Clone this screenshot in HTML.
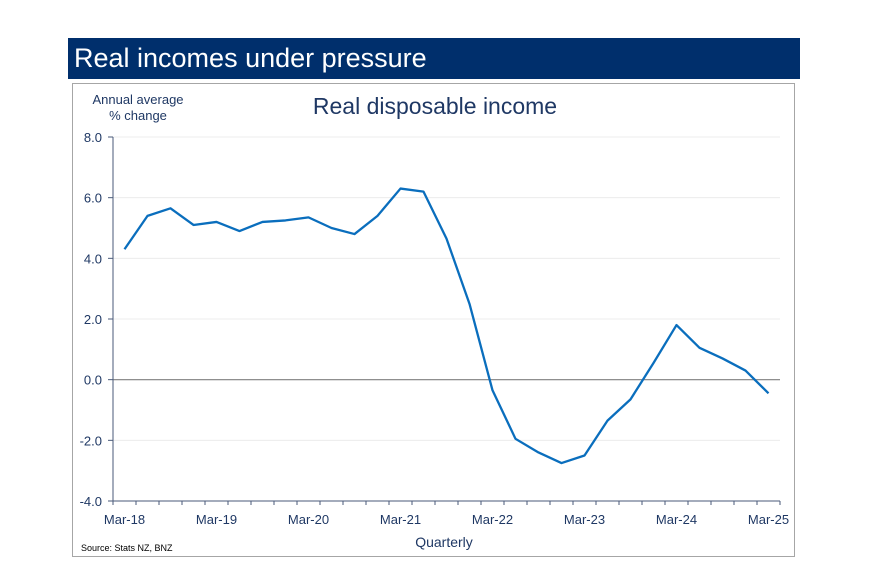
<!DOCTYPE html>
<html><head><meta charset="utf-8"><style>
body{margin:0;width:886px;height:574px;background:#fff;overflow:hidden;font-family:"Liberation Sans",sans-serif}
#bar{position:absolute;left:68px;top:38px;width:732px;height:41px;background:#002f6c;color:#fff;font-size:27px;line-height:40px;padding-left:6px;box-sizing:border-box}
#frame{position:absolute;left:72px;top:83px;width:723px;height:474px;border:1px solid #a6a6a6;box-sizing:border-box}
svg{position:absolute;left:0;top:0}
</style></head><body>
<div id="bar">Real incomes under pressure</div>
<div id="frame"></div>
<svg id="chart" width="886" height="574"></svg>
<script>
const categories=["Mar-18","Jun-18","Sep-18","Dec-18","Mar-19","Jun-19","Sep-19","Dec-19","Mar-20","Jun-20","Sep-20","Dec-20","Mar-21","Jun-21","Sep-21","Dec-21","Mar-22","Jun-22","Sep-22","Dec-22","Mar-23","Jun-23","Sep-23","Dec-23","Mar-24","Jun-24","Sep-24","Dec-24","Mar-25"];
const values=[4.3,5.4,5.65,5.1,5.2,4.9,5.2,5.25,5.35,5.0,4.8,5.4,6.3,6.2,4.65,2.5,-0.35,-1.95,-2.4,-2.75,-2.5,-1.35,-0.65,0.55,1.8,1.05,0.7,0.3,-0.45];
const yTicks=[-4,-2,0,2,4,6,8];
const yTickLabels=["-4.0","-2.0","0.0","2.0","4.0","6.0","8.0"];
const NS="http://www.w3.org/2000/svg",svg=document.getElementById('chart');
const X0=113,X1=780,Y0=501,Y1=137;
const step=(X1-X0)/categories.length;
const x=i=>X0+step*(i+0.5);
const y=v=>Y0-(v+4)/12*(Y0-Y1);
function mk(t,a,txt){const e=document.createElementNS(NS,t);for(const k in a)e.setAttribute(k,a[k]);if(txt!=null)e.textContent=txt;svg.appendChild(e);return e;}
const tc="#1f3864";
yTicks.forEach((v,i)=>{
 if(v!==-4&&v!==0){const g=mk('line',{x1:X0,x2:X1,y1:y(v),y2:y(v),stroke:'#ececec','stroke-width':1});
 
 }
 const t=mk('line',{x1:X0-5,x2:X0,y1:y(v),y2:y(v),stroke:'#4a5a7a'});
 
 
 const l=mk('text',{x:X0-11,y:y(v)+5,'text-anchor':'end','font-size':13,fill:tc},yTickLabels[i]);
 
 
});
const z=mk('line',{x1:X0,x2:X1,y1:y(0),y2:y(0),stroke:'#7f7f7f','stroke-width':1.2});


const ya=mk('line',{x1:X0,x2:X0,y1:Y1,y2:Y0,stroke:'#4a5a7a'});


const xa=mk('line',{x1:X0,x2:X1,y1:Y0,y2:Y0,stroke:'#4a5a7a'});


for(let i=0;i<=categories.length;i++){
 const t=mk('line',{x1:X0+step*i,x2:X0+step*i,y1:Y0,y2:Y0+4,stroke:'#4a5a7a'});
 
 
}
categories.forEach((c,i)=>{if(i%4===0){
 const l=mk('text',{x:x(i),y:Y0+23,'text-anchor':'middle','font-size':13,fill:tc},c);
 
 }});
const p=mk('polyline',{points:values.map((v,i)=>x(i)+','+y(v)).join(' '),fill:'none',stroke:'#0a6ebd','stroke-width':2.3,'stroke-linejoin':'round'});


const ct=mk('text',{x:435,y:114,'text-anchor':'middle','font-size':23,fill:tc},'Real disposable income');


const u1=mk('text',{x:138,y:104,'text-anchor':'middle','font-size':13,fill:tc},'Annual average');


const u2=mk('text',{x:138,y:120,'text-anchor':'middle','font-size':13,fill:tc},'% change');


const xt=mk('text',{x:444,y:547,'text-anchor':'middle','font-size':14,fill:tc},'Quarterly');


const s=mk('text',{x:81,y:551,'font-size':9,fill:'#000'},'Source: Stats NZ, BNZ');


</script>
</body></html>
